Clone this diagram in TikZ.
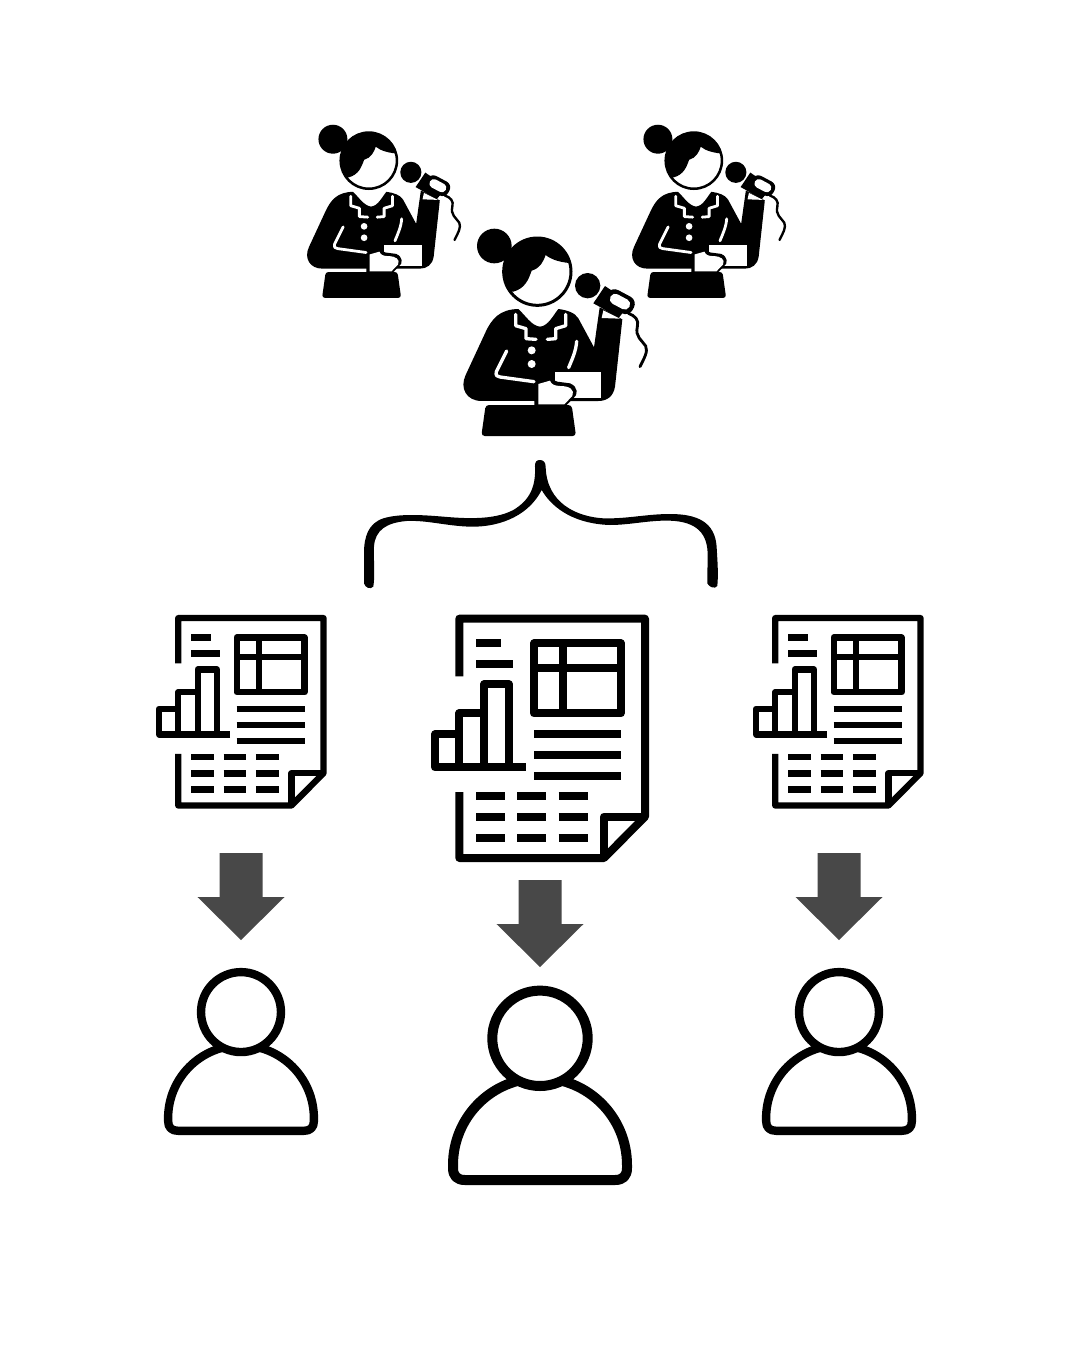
\documentclass[tikz,border=0pt]{standalone}
\definecolor{arrowgrey}{HTML}{484848}
\newcommand{\teacher}[3]{%
\pgfmathsetmacro{\u}{#3/3}
\begin{scope}[shift={(#1,#2)},x=\u pt,y=-\u pt,
  wl/.style={draw=white,line width=\u*10pt,line cap=round,line join=round}]
\fill (133,78) circle[radius=52];
\draw[fill=white,line width=\u*9pt] (262,155) circle[radius=101];
\begin{scope}
\clip (262,155) circle[radius=101];
\fill (150,215) -- (190,215) .. controls (225,205) and (235,180) .. (245,152)
 .. controls (270,145) and (280,125) .. (287,105) .. controls (305,120) and (335,128) .. (370,130) -- (370,30) -- (150,30) -- cycle;
\end{scope}
% hand and microphone
\fill (413,197) circle[radius=38];
\fill (465,198) -- (430,250) -- (452,262) -- (505,295) -- (525,270) -- (490,215) -- cycle;
\fill[rotate around={-28:(510,245)},rounded corners=\u*24pt] (465,217) rectangle (555,273);
\draw[line width=\u*8.5pt,line cap=round] (535,280) .. controls (555,287) and (568,300) .. (562,320)
 .. controls (555,350) and (575,360) .. (587,378) .. controls (595,395) and (582,415) .. (570,440);
% torso and arms
\fill (205,267) .. controls (225,285) and (245,318) .. (270,320) .. controls (295,318) and (310,285) .. (325,267)
 .. controls (350,270) and (375,278) .. (385,295) -- (432,382) -- (449,262) -- (517,298) -- (495,500)
 .. controls (490,530) and (470,543) .. (445,543) -- (95,543)
 .. controls (50,543) and (28,505) .. (47,465) -- (105,340) .. controls (125,295) and (150,268) .. (205,267) -- cycle;
\fill[white] (460,271) -- (510,296) -- (455,294) -- cycle;
\fill[white,rotate around={-28:(510,245)},rounded corners=\u*15pt] (478,229) rectangle (542,261);
% skirt
\fill[rounded corners=\u*10pt] (107,555) -- (365,555) -- (378,648) -- (94,648) -- cycle;
\fill[white] (90,543) rectangle (253,555);
% collar, arm lines, buttons
\draw[wl] (197,283) -- (197,317) -- (228,326) -- (228,356) -- (258,358);
\draw[wl] (347,283) -- (347,317) -- (317,326) -- (317,356) -- (292,358);
\fill[white] (245,391) circle[radius=12] (245,432) circle[radius=12];
\draw[wl] (170,393) -- (139,455) .. controls (136,467) and (142,470) .. (150,471) -- (252,485);
\draw[wl] (380,364) .. controls (378,395) and (365,420) .. (356,443);
% paper
\fill[white] (315,457) rectangle (452,533);
% hand
\fill (253,500) -- (300,476) -- (322,485) -- (360,490) .. controls (385,500) and (385,525) .. (370,535) -- (345,560) -- (253,560) -- cycle;
\fill[white] (265,492) -- (300,482) .. controls (305,495) and (315,497) .. (330,498)
 .. controls (360,498) and (375,510) .. (367,528) -- (343,553) -- (265,553) -- cycle;
\end{scope}}
\newcommand{\report}[3]{%
\pgfmathsetmacro{\u}{#3/3}
\begin{scope}[shift={(#1,#2)},x=\u pt,y=-\u pt,line width=\u*24pt,line join=round]
\draw (103,214) -- (103,41) -- (660,41) -- (660,635) -- (537,759) -- (103,759) -- (103,561);
\draw (660,635) -- (537,635) -- (537,759);
\draw (153,115) -- (227,115) (153,177) -- (265,177);
\draw (327,115) rectangle (587,325) (327,190) -- (587,190) (413,115) -- (413,325);
\draw (302,487) -- (30,487) -- (30,388) -- (103,388) (103,487) -- (103,325) -- (178,325)
 (178,487) -- (178,238) -- (252,238) -- (252,487);
\draw (327,388) -- (587,388) (327,450) -- (587,450) (327,512) -- (587,512);
\foreach \yy in {574,636,698}{\draw (153,\yy) -- (240,\yy) (277,\yy) -- (364,\yy) (401,\yy) -- (488,\yy);}
\end{scope}}
\newcommand{\person}[3]{%
\begin{scope}[shift={(#1,#2)},x=#3 pt,y=-#3 pt,line width=#3*10pt,line join=round]
\draw (-87,-20) arc[start angle=180,end angle=360,radius=87] -- (87,-17)
  .. controls (87,-9) and (83,-5) .. (75,-5) -- (-75,-5) .. controls (-83,-5) and (-87,-9) .. (-87,-17) -- cycle;
\draw[fill=white] (0,-146.7) circle[radius=47.7];
\end{scope}}
\newcommand{\greyarrow}[2]{%
\fill[arrowgrey] (#1-21.5,#2) -- (#1+21.5,#2) -- (#1+21.5,#2+44) -- (#1+43.5,#2+44) -- (#1,#2+87) -- (#1-43.5,#2+44) -- (#1-21.5,#2+44) -- cycle;}
\begin{document}
\begin{tikzpicture}[x=1pt,y=-1pt]
\useasboundingbox (0,0) rectangle (1080,1350);
\fill[white] (0,0) rectangle (1080,1350);
\teacher{295.9}{117.5}{.835}
\teacher{620.9}{117.5}{.835}
\teacher{450}{220}{1}
\begin{scope}[shift={(350,450)},x=.3333pt,y=-.3333pt]
\fill (570,30) .. controls (560,30) and (555,35) .. (555,48) .. controls (558,110) and (540,150) .. (490,180)
 .. controls (430,212) and (340,205) .. (280,200) .. controls (220,195) and (150,190) .. (100,205)
 .. controls (55,220) and (42,260) .. (42,310) -- (42,400) .. controls (45,412) and (60,420) .. (70,410)
 .. controls (76,370) and (70,330) .. (72,290) .. controls (75,240) and (110,218) .. (170,213)
 .. controls (230,210) and (290,228) .. (360,230) .. controls (460,232) and (540,190) .. (575,120)
 .. controls (610,180) and (680,222) .. (780,225) .. controls (840,225) and (900,210) .. (960,212)
 .. controls (1040,215) and (1075,250) .. (1073,320) -- (1072,400) .. controls (1078,412) and (1095,418) .. (1102,408)
 .. controls (1106,370) and (1102,330) .. (1100,290) .. controls (1095,215) and (1040,192) .. (960,192)
 .. controls (890,192) and (830,207) .. (760,205) .. controls (680,200) and (590,160) .. (587,50)
 .. controls (587,37) and (580,30) .. (570,30) -- cycle;
\end{scope}
\report{151.3}{607.4}{.783}
\report{748.3}{607.4}{.783}
\report{425}{605}{1}
\greyarrow{241}{853}
\greyarrow{540}{880}
\greyarrow{839}{853}
\person{241}{1135}{.838}
\person{540}{1185}{1}
\person{839}{1135}{.838}
\end{tikzpicture}
\end{document}
